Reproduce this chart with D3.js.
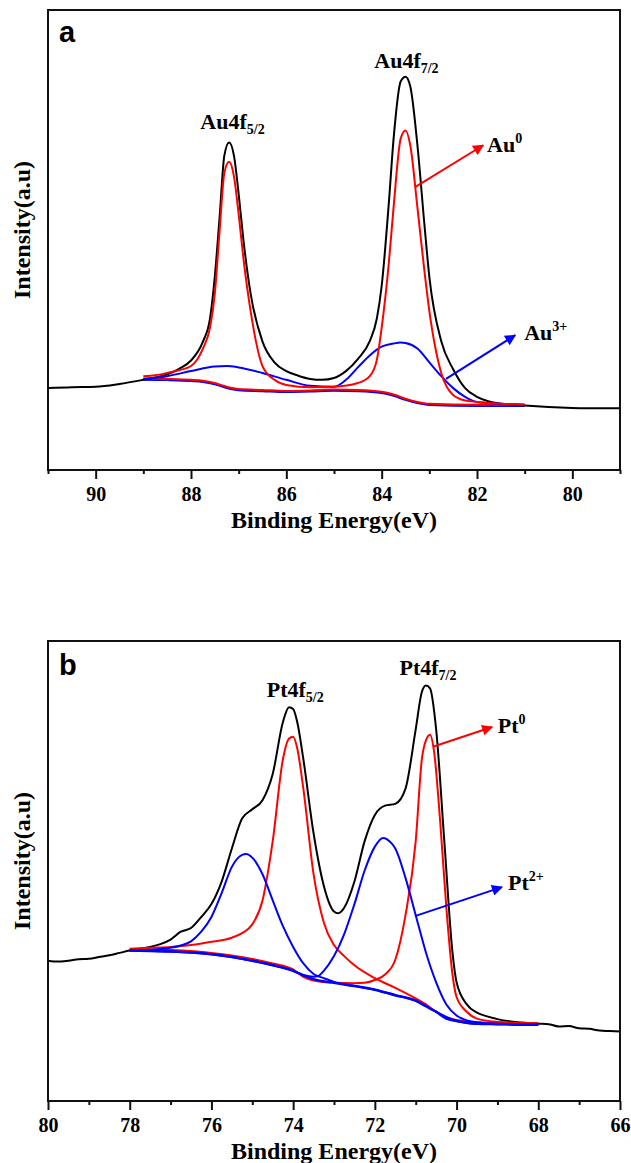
<!DOCTYPE html>
<html lang="en">
<head>
<meta charset="UTF-8">
<title>XPS Au4f / Pt4f</title>
<script src="https://d3js.org/d3.v7.min.js"></script>
<style>
  body{margin:0;background:#fff}
  svg text{font-family:"Liberation Serif","Times New Roman",serif !important;font-weight:bold;fill:#000}
  svg text.tag{font-family:"Liberation Sans",Arial,sans-serif !important}
</style>
</head>
<body>
<svg id="chart" width="631" height="1163"></svg>
<script>
// ---- panel a : Au4f (eV, intensity a.u. 0-100) ----
var aTicks = [90, 88, 86, 84, 82, 80];
var aMinor = [91, 89, 87, 85, 83, 81, 79];
var aBlack = [[91,17.8],[90.5,18.0],[90,18.1],[89.5,18.7],[89,19.6],[88.75,20.1],[88.5,20.8],[88.25,22.0],[88,23.8],[87.75,27.9],[87.6,33],[87.5,42.1],[87.4,55],[87.3,68.4],[87.2,71.2],[87.1,68.4],[87,60],[86.9,50],[86.75,38.4],[86.5,27.9],[86.25,23.4],[86,21.5],[85.75,20.5],[85.5,19.8],[85.25,19.6],[85,20.0],[84.75,21.5],[84.5,24.1],[84.25,28],[84.1,33],[84,40],[83.85,58],[83.75,72],[83.6,84.5],[83.5,85.5],[83.4,83.4],[83.25,70.6],[83.1,53],[83,42],[82.75,28],[82.5,21.9],[82.25,17.8],[82,15.9],[81.75,14.9],[81.5,14.4],[81,14.0],[80.5,13.7],[80,13.5],[79.5,13.4],[79,13.4]];
var aRed = [[89,20.4],[88.75,20.6],[88.5,21.1],[88.25,21.7],[88,22.6],[87.75,26.4],[87.6,31],[87.5,38.4],[87.4,52],[87.3,64.6],[87.2,67.0],[87.1,63.9],[87,55.6],[86.9,46],[86.75,34.6],[86.5,22.6],[86.25,19.6],[86,18.5],[85.5,18.0],[85,18.1],[84.5,18.9],[84.25,20.4],[84.1,24],[84,30.9],[83.85,45],[83.75,57.1],[83.6,72.1],[83.5,73.8],[83.4,70.6],[83.25,57.1],[83.1,43],[83,34.6],[82.75,21.1],[82.5,16.3],[82.25,15.1],[82,14.8],[81.5,14.4],[81,14.2]];
var aBlue = [[89,19.8],[88.5,20.4],[88,21.5],[87.5,22.5],[87.25,22.6],[87,22.3],[86.5,21.1],[86,19.6],[85.5,18.3],[85,18.1],[84.75,19.6],[84.5,22.3],[84.25,24.9],[84,26.8],[83.75,27.5],[83.6,27.7],[83.5,27.6],[83.25,26.4],[83,23.4],[82.75,20.4],[82.5,17.8],[82.25,15.9],[82,14.8],[81.5,14.4],[81,14.2]];
var aBg = [[89,19.9],[88.5,19.8],[88,19.6],[87.75,19.4],[87.5,18.9],[87.25,18.1],[87,17.6],[86.5,17.4],[86,17.2],[85.5,17.3],[85,17.5],[84.5,17.4],[84,17.0],[83.75,16.4],[83.5,15.5],[83.25,14.8],[83,14.4],[82,14.2],[81,14.2]];

// ---- panel b : Pt4f ----
var bTicks = [80, 78, 76, 74, 72, 70, 68, 66];
var bMinor = [79, 77, 75, 73, 71, 69, 67];
var bBlack = [[80,30.5],[79.75,30.3],[79.5,30.5],[79.25,30.8],[79,30.9],[78.75,31.3],[78.5,31.7],[78.25,32.2],[78,32.7],[77.75,33.1],[77.5,33.5],[77.25,34.1],[77,35.1],[76.75,36.8],[76.5,37.6],[76.25,40.0],[76,42.8],[75.75,47.7],[75.5,54.9],[75.25,61.4],[75,63.4],[74.75,65.4],[74.5,71.1],[74.25,82.4],[74.1,85.6],[74,85.2],[73.9,82.4],[73.75,74.3],[73.5,58.2],[73.25,46.8],[73,41.2],[72.9,40.8],[72.75,42.0],[72.5,47.7],[72.25,56.5],[72,62.2],[71.75,64.2],[71.5,64.6],[71.25,67.9],[71,80.8],[70.85,88.9],[70.75,90.3],[70.65,89.7],[70.5,80.8],[70.3,56.5],[70.1,32.3],[70,25.8],[69.75,21.0],[69.5,19.2],[69.25,18.4],[69,17.8],[68.5,17.1],[68,16.8],[67.75,16.7],[67.5,16.2],[67.25,16.3],[67,15.8],[66.75,15.7],[66.5,15.3],[66.25,15.2],[66,15.1]];
var bRed1 = [[78,33.1],[77.5,33.3],[77,33.5],[76.5,33.9],[76,34.6],[75.5,35.5],[75.25,36.5],[75,38.4],[74.75,43.6],[74.5,56.5],[74.25,74.3],[74.1,78.8],[74,79.2],[73.9,76.7],[73.75,67.9],[73.5,49.3],[73.25,38.8],[73,33.9],[72.75,31.5],[72.5,29.5],[72,26.7],[71.5,24.6],[71,22.3],[70.75,21.0],[70.5,19.4],[70.25,18.2],[70,17.6],[69.5,17.1],[69,17.0],[68,16.8]];
var bRed2 = [[78,33.0],[77,32.8],[76,32.2],[75,30.9],[74.5,29.9],[74,28.6],[73.75,27.0],[73.5,26.2],[73,25.7],[72.5,25.6],[72.25,25.7],[72,26.3],[71.75,27.5],[71.5,30.7],[71.25,40.4],[71,56.5],[70.85,74.3],[70.75,78.4],[70.65,79.6],[70.55,75.9],[70.4,60.6],[70.25,42.0],[70.1,27.5],[70,22.6],[69.75,19.4],[69.5,17.9],[69,17.2],[68.5,17.0],[68,16.9]];
var bBlue1 = [[78,32.7],[77.5,32.9],[77,33.3],[76.75,33.8],[76.5,34.7],[76.25,36.8],[76,40.0],[75.75,45.2],[75.5,50.9],[75.25,53.5],[75.15,53.7],[75,52.9],[74.75,49.3],[74.5,43.6],[74.25,38.0],[74,33.5],[73.75,29.9],[73.5,27.6],[73.25,26.7],[73,25.9],[72.5,25.0],[72,24.2],[71.5,23.0],[71,21.8],[70.5,19.4],[70,17.4],[69.5,16.8],[69,16.7],[68,16.6]];
var bBlue2 = [[78,32.7],[77,32.5],[76,31.9],[75,30.5],[74,28.3],[73.75,27.4],[73.5,27.0],[73.4,27.1],[73.25,28.3],[73,31.5],[72.75,36.3],[72.5,42.8],[72.25,50.1],[72,55.3],[71.8,57.2],[71.6,56.1],[71.5,54.9],[71.25,48.5],[71,40.4],[70.75,32.3],[70.5,25.8],[70.25,21.0],[70,18.6],[69.75,17.5],[69.5,17.1],[69,16.8],[68,16.7]];
var bBg = [[78,32.7],[77.5,32.6],[77,32.5],[76.5,32.3],[76,31.9],[75.5,31.3],[75,30.5],[74.5,29.5],[74,28.3],[73.75,27.3],[73.5,26.5],[73,25.7],[72.5,25.0],[72,24.2],[71.5,23.0],[71,21.8],[70.75,20.6],[70.5,19.4],[70.25,17.9],[70,17.4],[69.5,16.8],[69,16.7],[68.5,16.6],[68,16.6]];

var SERIF = "'Liberation Serif', 'Times New Roman', serif";
var svg = d3.select("#chart");
var defs = svg.append("defs");
[["arRed","#ff0000"],["arBlue","#0000ff"]].forEach(function(m){
  defs.append("marker").attr("id", m[0]).attr("viewBox","0 0 10 10")
    .attr("refX", 9).attr("refY", 5).attr("markerWidth", 15).attr("markerHeight", 11)
    .attr("markerUnits","userSpaceOnUse").attr("orient","auto")
    .append("path").attr("d","M0,0L10,5L0,10Z").attr("fill", m[1]);
});

function panel(opt){
  var x = d3.scaleLinear().domain(opt.xdom).range([48, 620]);
  var y = d3.scaleLinear().domain([0, 100]).range([opt.bottom, opt.top]);
  var g = svg.append("g").attr("font-family", SERIF).attr("font-weight", "bold");
  var line = d3.line().x(function(d){return x(d[0]);}).y(function(d){return y(d[1]);}).curve(d3.curveMonotoneX);

  opt.curves.forEach(function(c){
    g.append("path").attr("d", line(c.data)).attr("fill","none")
      .attr("stroke", c.color).attr("stroke-width", c.w || 2)
      .attr("transform", c.dy ? "translate(0," + c.dy + ")" : null);
  });

  // frame
  g.append("rect").attr("x", 48).attr("y", opt.top).attr("width", 572).attr("height", opt.bottom - opt.top)
    .attr("fill","none").attr("stroke","#111").attr("stroke-width", 2);

  // axes
  var ax = g.append("g").attr("transform","translate(0," + opt.bottom + ")")
    .call(d3.axisBottom(x).tickValues(opt.ticks).tickSize(9).tickPadding(8).tickFormat(d3.format("d")));
  ax.attr("font-family", SERIF);
  ax.select(".domain").remove();
  ax.selectAll("line").attr("stroke","#111").attr("stroke-width", 2);
  ax.selectAll("text").attr("font-size", 20).style("font-family", SERIF).style("font-weight", "bold");
  var mi = g.append("g").attr("transform","translate(0," + opt.bottom + ")")
    .call(d3.axisBottom(x).tickValues(opt.minor).tickSize(4).tickFormat(""));
  mi.select(".domain").remove();
  mi.selectAll("line").attr("stroke","#111").attr("stroke-width", 2);

  g.append("text").attr("x", 334).attr("y", opt.bottom + 58).attr("text-anchor","middle")
    .attr("font-size", 24).style("font-family", SERIF).text("Binding Energy(eV)");
  g.append("text").attr("transform","translate(30," + ((opt.top + opt.bottom) / 2 - 10) + ") rotate(-90)")
    .attr("text-anchor","middle").attr("font-size", 24).style("font-family", SERIF).text("Intensity(a.u)");

  g.append("text").attr("class","tag").attr("x", x(opt.tag[1])).attr("y", y(opt.tag[2]))
    .attr("font-size", 29).text(opt.tag[0]);

  opt.peaks.forEach(function(p){
    var t = g.append("text").attr("x", x(p[2])).attr("y", y(p[3])).attr("text-anchor","middle")
      .attr("font-size", 22).style("font-family", SERIF);
    t.append("tspan").text(p[0]);
    t.append("tspan").attr("font-size", 14).attr("dy", 5).text(p[1]);
  });

  opt.arrows.forEach(function(a){
    g.append("line").attr("x1", x(a.from[0])).attr("y1", y(a.from[1]))
      .attr("x2", x(a.to[0])).attr("y2", y(a.to[1]))
      .attr("stroke", a.color).attr("stroke-width", 2).attr("marker-end","url(#" + a.marker + ")");
    var t = g.append("text").attr("x", x(a.label[0])).attr("y", y(a.label[1]))
      .attr("font-size", 22).style("font-family", SERIF);
    t.append("tspan").text(a.text);
    t.append("tspan").attr("font-size", 14).attr("dy", -9).text(a.sup);
  });
}

panel({
  xdom: [91, 79], top: 10, bottom: 470, ticks: aTicks, minor: aMinor,
  tag: ["a", 90.77, 93.0],
  curves: [
    {data: aBg, color: "#0000ff", dy: 1.2},
    {data: aBg, color: "#ff0000"},
    {data: aBlack, color: "#000"},
    {data: aBlue, color: "#0000ff"},
    {data: aRed, color: "#ff0000"}
  ],
  peaks: [["Au4f", "5/2", 87.13, 74.1], ["Au4f", "7/2", 83.48, 87.4]],
  arrows: [
    {from: [83.30, 61.5], to: [81.87, 70.6], color: "#ff0000", marker: "arRed", label: [81.79, 69.1], text: "Au", sup: "0"},
    {from: [82.65, 19.8], to: [81.20, 29.3], color: "#0000ff", marker: "arBlue", label: [81.01, 28.3], text: "Au", sup: "3+"}
  ]
});

panel({
  xdom: [80, 66], top: 641, bottom: 1101, ticks: bTicks, minor: bMinor,
  tag: ["b", 79.73, 92.6],
  curves: [
    {data: bBlack, color: "#000"},
    {data: bRed2, color: "#ff0000"},
    {data: bRed1, color: "#ff0000"},
    {data: bBg, color: "#0000ff", w: 2.5},
    {data: bBlue1, color: "#0000ff"},
    {data: bBlue2, color: "#0000ff"}
  ],
  peaks: [["Pt4f", "5/2", 73.95, 87.8], ["Pt4f", "7/2", 70.70, 92.6]],
  arrows: [
    {from: [70.58, 77.0], to: [69.13, 81.3], color: "#ff0000", marker: "arRed", label: [68.99, 80.0], text: "Pt", sup: "0"},
    {from: [71.02, 40.2], to: [68.89, 46.5], color: "#0000ff", marker: "arBlue", label: [68.74, 45.9], text: "Pt", sup: "2+"}
  ]
});
</script>
</body>
</html>
